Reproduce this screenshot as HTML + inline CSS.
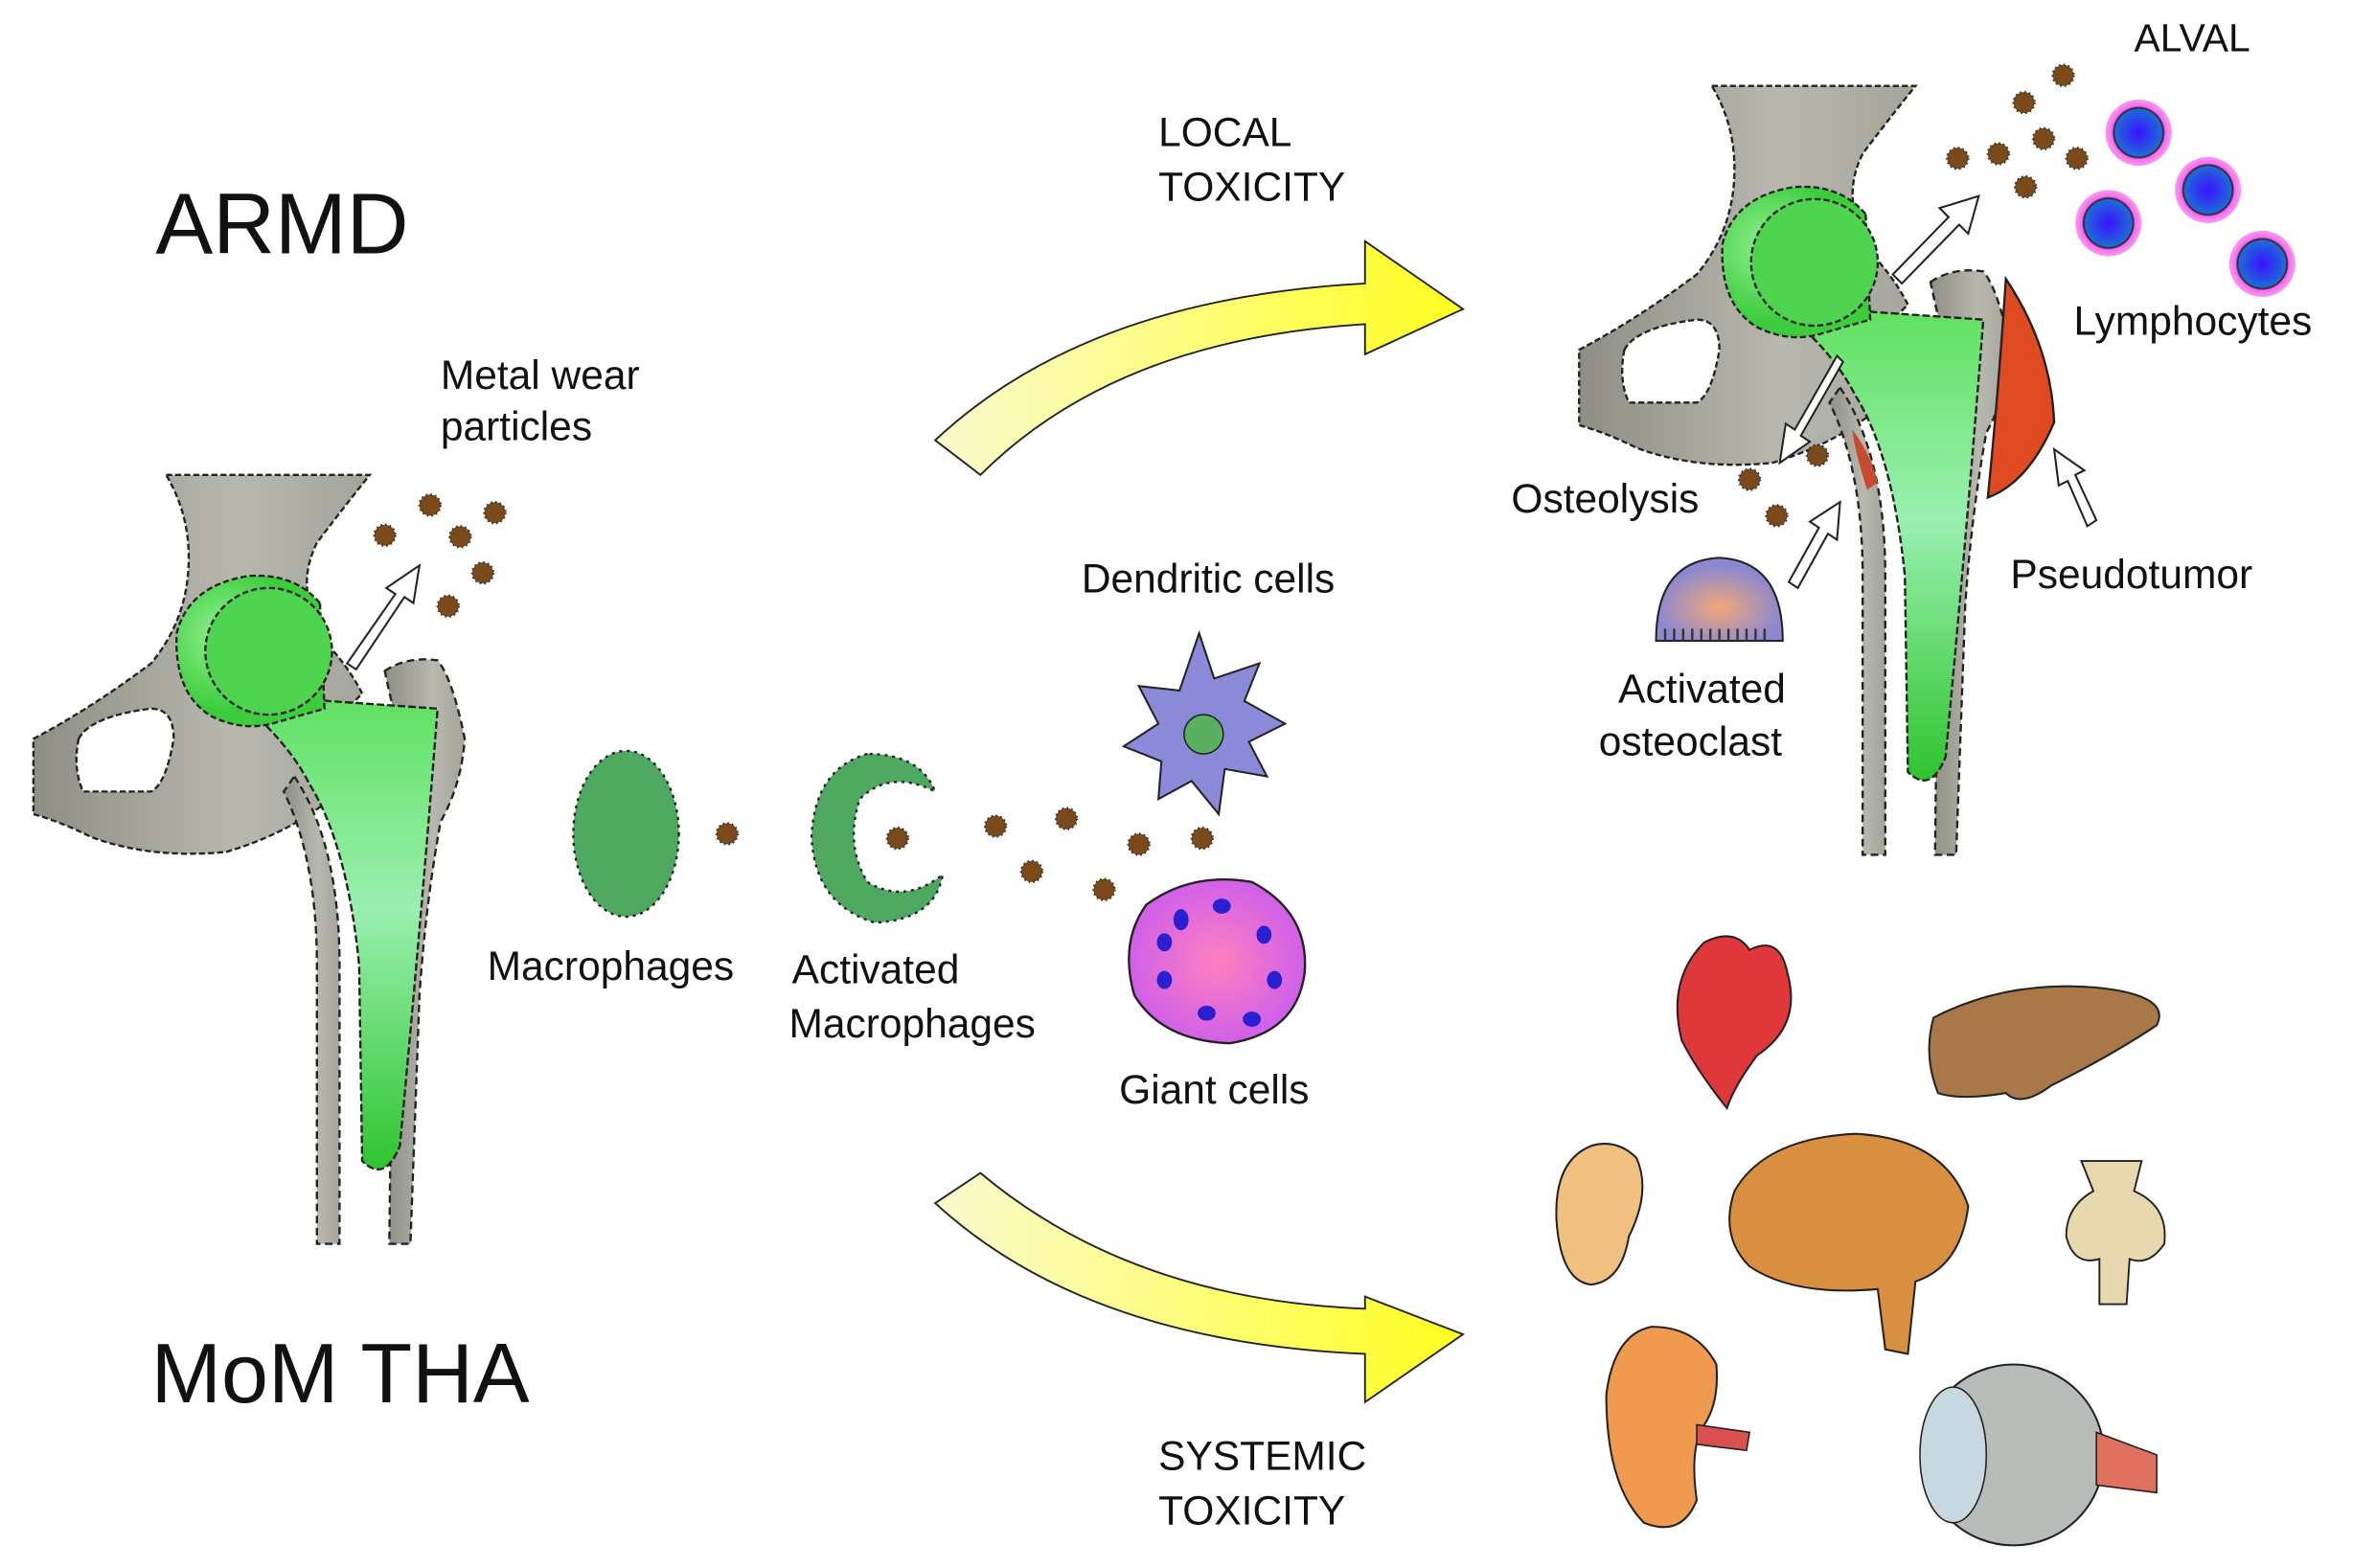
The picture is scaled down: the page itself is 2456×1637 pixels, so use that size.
<!DOCTYPE html>
<html><head><meta charset="utf-8"><style>
html,body{margin:0;padding:0;background:#fff;}
svg{display:block;}
text{font-family:"Liberation Sans",Arial,sans-serif;fill:#111;}
</style></head><body>
<svg width="2456" height="1637" viewBox="0 0 1560 1040" xmlns="http://www.w3.org/2000/svg">
<defs>
<linearGradient id="bone" x1="0" x2="1"><stop offset="0" stop-color="#8e8e84"/><stop offset="0.6" stop-color="#b8b8ae"/><stop offset="1" stop-color="#a4a49a"/></linearGradient>
<linearGradient id="stem" x1="0" y1="0" x2="0" y2="1"><stop offset="0" stop-color="#5fe05f"/><stop offset="0.45" stop-color="#9af0b0"/><stop offset="1" stop-color="#2fc42f"/></linearGradient>
<radialGradient id="cup" cx="0.3" cy="0.4"><stop offset="0" stop-color="#8ff08f"/><stop offset="1" stop-color="#3ccc3c"/></radialGradient>
<radialGradient id="lym"><stop offset="0" stop-color="#3a10ff"/><stop offset="0.7" stop-color="#1f6ad8"/><stop offset="0.75" stop-color="#222"/><stop offset="0.8" stop-color="#ff66ee"/><stop offset="1" stop-color="#f0a0f0"/></radialGradient>
<radialGradient id="osteo" cx="0.5" cy="0.6"><stop offset="0" stop-color="#f0a878"/><stop offset="1" stop-color="#8c88d0"/></radialGradient>
<radialGradient id="giant"><stop offset="0" stop-color="#ff80c0"/><stop offset="1" stop-color="#d060e8"/></radialGradient>
<linearGradient id="ya" x1="0" x2="1"><stop offset="0" stop-color="#fbfbd0"/><stop offset="1" stop-color="#ffff20"/></linearGradient>
<g id="hip">
 <path d="M110,315 L245,315 Q225,340 210,360 Q200,380 205,400 L210,420 Q230,440 240,460 L230,470 Q250,500 230,520 Q200,550 150,565 Q100,570 60,555 Q40,545 22,540 L22,490 Q60,470 100,440 Q125,410 125,370 Q125,340 110,315 Z" fill="url(#bone)" stroke="#222" stroke-width="1.5" stroke-dasharray="4 2"/>
 <path d="M52,490 Q60,475 100,470 Q115,470 115,490 Q110,520 100,525 L55,525 Q48,510 52,490 Z" fill="#fff" stroke="#222" stroke-width="1.5" stroke-dasharray="4 2"/>
 <path d="M195,515 Q225,560 225,640 L225,825 L210,825 L210,640 Q210,570 188,525 Z" fill="url(#bone)" stroke="#222" stroke-width="1.5" stroke-dasharray="5 3"/>
 <path d="M255,445 Q270,435 290,438 Q300,450 308,490 Q306,520 292,545 Q282,600 278,660 L272,825 L258,825 L260,650 Q265,560 275,520 Q262,480 255,445 Z" fill="url(#bone)" stroke="#222" stroke-width="1.5" stroke-dasharray="5 3"/>
 <path d="M180,460 L218,465 L290,470 Q280,600 265,760 Q255,785 240,770 L238,640 Q230,560 205,520 Q195,500 175,480 Z" fill="url(#stem)" stroke="#222" stroke-width="1.5" stroke-dasharray="5 2"/>
 <path d="M212,400 Q195,380 165,382 Q125,388 117,420 Q115,460 140,475 Q160,485 180,480 L215,470 Z" fill="url(#cup)" stroke="#222" stroke-width="1.5" stroke-dasharray="4 2"/>
 <circle cx="178" cy="432" r="42" fill="#4fd44f" stroke="#222" stroke-width="1.5" stroke-dasharray="4 2"/>
</g>
<g id="pt"><circle r="7" fill="#7a4a1a" stroke="#333" stroke-width="1.5" stroke-dasharray="1 2"/></g>
</defs>
<rect width="1560" height="1040" fill="#fff"/>
<text x="103" y="168" font-size="57">ARMD</text>
<text x="100" y="930" font-size="56">MoM THA</text>
<use href="#hip"/>
<use href="#hip" transform="translate(1025,-258)"/>
<path d="M1330,185 Q1360,230 1362,280 Q1345,320 1318,330 Q1325,260 1330,185 Z" fill="#e04a20" stroke="#222" stroke-width="1.5"/>
<path d="M1228,285 Q1240,300 1245,320 L1238,325 Q1230,300 1228,285 Z" fill="#c84a30"/>
<use href="#pt" x="285" y="335"/><use href="#pt" x="328" y="340"/><use href="#pt" x="255" y="355"/><use href="#pt" x="305" y="356"/><use href="#pt" x="320" y="380"/><use href="#pt" x="297" y="402"/>
<g fill="#fff" stroke="#222" stroke-width="1.3"><path d="M230,440 L262,394 L256,390 L278,375 L274,400 L268,396 L236,444 Z"/></g>
<text x="292" y="258" font-size="27">Metal wear</text>
<text x="292" y="292" font-size="27">particles</text>
<ellipse cx="415" cy="553" rx="35" ry="55" fill="#4ea860" stroke="#222" stroke-width="1.5" stroke-dasharray="2 3"/>
<use href="#pt" x="482" y="553"/>
<path d="M575,500 Q540,510 538,555 Q540,600 580,612 Q620,610 625,580 Q600,600 575,585 Q560,560 570,530 Q590,510 620,525 Q610,500 575,500 Z" fill="#4ea860" stroke="#222" stroke-width="1.5" stroke-dasharray="2 3"/>
<use href="#pt" x="595" y="556"/>
<use href="#pt" x="660" y="548"/><use href="#pt" x="707" y="543"/><use href="#pt" x="684" y="578"/><use href="#pt" x="732" y="590"/><use href="#pt" x="755" y="560"/><use href="#pt" x="797" y="556"/>
<text x="323" y="650" font-size="27">Macrophages</text>
<text x="525" y="652" font-size="27">Activated</text>
<text x="523" y="688" font-size="27">Macrophages</text>
<path d="M795,420 L805,450 L835,440 L825,465 L852,480 L828,492 L840,515 L812,510 L808,540 L790,518 L768,530 L770,505 L745,495 L768,480 L755,455 L782,458 Z" fill="#8a8ad8" stroke="#222" stroke-width="1.3"/>
<circle cx="798" cy="487" r="13" fill="#5ab060" stroke="#222"/>
<text x="717" y="393" font-size="27">Dendritic cells</text>
<path d="M760,600 Q790,578 830,585 Q868,605 865,645 Q860,685 815,692 Q770,690 752,660 Q742,625 760,600 Z" fill="url(#giant)" stroke="#222" stroke-width="1.5"/>
<g fill="#2a20d0"><ellipse cx="783" cy="610" rx="5" ry="7"/><ellipse cx="810" cy="601" rx="6" ry="5"/><ellipse cx="838" cy="620" rx="5" ry="6"/><ellipse cx="845" cy="650" rx="5" ry="6"/><ellipse cx="830" cy="676" rx="6" ry="5"/><ellipse cx="800" cy="672" rx="6" ry="5"/><ellipse cx="772" cy="650" rx="5" ry="6"/><ellipse cx="772" cy="625" rx="5" ry="6"/></g>
<text x="742" y="732" font-size="27">Giant cells</text>
<path d="M620,292 Q720,198 905,188 L905,160 L970,205 L905,235 L905,215 Q740,225 650,315 Z" fill="url(#ya)" stroke="#222" stroke-width="1.2"/>
<path d="M620,798 L650,778 Q750,862 905,868 L905,860 L970,885 L905,930 L905,898 Q720,890 620,798 Z" fill="url(#ya)" stroke="#222" stroke-width="1.2"/>
<text x="768" y="97" font-size="27">LOCAL</text>
<text x="768" y="133" font-size="27">TOXICITY</text>
<text x="768" y="975" font-size="27">SYSTEMIC</text>
<text x="768" y="1011" font-size="27">TOXICITY</text>
<text x="1415" y="34" font-size="26">ALVAL</text>
<use href="#pt" x="1368" y="50"/><use href="#pt" x="1342" y="68"/><use href="#pt" x="1355" y="92"/><use href="#pt" x="1298" y="105"/><use href="#pt" x="1325" y="102"/><use href="#pt" x="1377" y="105"/><use href="#pt" x="1343" y="124"/>
<circle cx="1418" cy="88" r="22" fill="url(#lym)"/><circle cx="1464" cy="126" r="22" fill="url(#lym)"/><circle cx="1398" cy="148" r="22" fill="url(#lym)"/><circle cx="1500" cy="175" r="22" fill="url(#lym)"/>
<text x="1375" y="222" font-size="27">Lymphocytes</text>
<g fill="#fff" stroke="#222" stroke-width="1.3">
<path d="M1255,182 L1292,144 L1286,138 L1312,130 L1305,155 L1299,149 L1261,188 Z"/>
<path d="M1218,236 L1190,285 L1184,281 L1180,307 L1200,293 L1194,289 L1222,240 Z"/>
<path d="M1186,386 L1206,350 L1200,346 L1220,333 L1218,358 L1212,354 L1192,390 Z"/>
<path d="M1390,345 L1376,315 L1382,312 L1362,298 L1365,322 L1371,319 L1384,349 Z"/>
</g>
<use href="#pt" x="1205" y="302"/><use href="#pt" x="1160" y="318"/><use href="#pt" x="1178" y="342"/>
<text x="1002" y="340" font-size="27">Osteolysis</text>
<text x="1333" y="390" font-size="27">Pseudotumor</text>
<path d="M1098,425 Q1098,372 1140,370 Q1182,372 1182,425 Z" fill="url(#osteo)" stroke="#222" stroke-width="1.3"/>
<path d="M1104,425 v-8 M1110,425 v-8 M1116,425 v-8 M1122,425 v-8 M1128,425 v-8 M1134,425 v-8 M1140,425 v-8 M1146,425 v-8 M1152,425 v-8 M1158,425 v-8 M1164,425 v-8 M1170,425 v-8" stroke="#333" stroke-width="1.5"/>
<text x="1073" y="466" font-size="27">Activated</text>
<text x="1060" y="501" font-size="27">osteoclast</text>
<path d="M1130,625 Q1150,615 1160,630 Q1180,620 1185,645 Q1195,680 1165,700 Q1150,720 1145,735 Q1125,710 1115,690 Q1105,650 1130,625 Z" fill="#e0383a" stroke="#222" stroke-width="1.3"/>
<path d="M1282,675 Q1330,650 1390,655 Q1440,660 1430,680 Q1400,700 1360,720 Q1340,735 1330,725 Q1300,730 1285,725 Q1275,700 1282,675 Z" fill="#a87848" stroke="#222" stroke-width="1.3"/>
<path d="M1055,760 Q1030,770 1032,810 Q1035,850 1055,852 Q1075,850 1080,820 Q1095,790 1085,768 Q1072,755 1055,760 Z" fill="#f0c080" stroke="#222" stroke-width="1.3"/>
<path d="M1150,790 Q1170,755 1230,752 Q1290,755 1305,800 Q1300,840 1270,850 L1265,898 L1250,895 L1245,855 Q1190,860 1160,840 Q1140,820 1150,790 Z" fill="#d89040" stroke="#222" stroke-width="1.3"/>
<path d="M1380,770 L1420,770 L1415,790 Q1438,800 1435,825 Q1425,840 1412,835 L1410,865 L1392,865 L1392,835 Q1375,840 1370,820 Q1370,800 1388,790 Z" fill="#e8d8b0" stroke="#222" stroke-width="1.2"/>
<path d="M1095,880 Q1070,885 1065,925 Q1065,985 1090,1010 Q1115,1020 1125,995 Q1120,960 1130,945 Q1140,930 1138,905 Q1125,880 1095,880 Z" fill="#f09a50" stroke="#222" stroke-width="1.3"/>
<path d="M1125,945 L1160,950 L1158,962 L1125,958 Z" fill="#d85050" stroke="#222"/>
<circle cx="1335" cy="965" r="60" fill="#b8bcb8" stroke="#222" stroke-width="1.3"/>
<path d="M1390,950 L1430,965 L1430,990 L1390,985 Z" fill="#e07060" stroke="#222"/>
<ellipse cx="1295" cy="965" rx="22" ry="45" fill="#c8d8e0" stroke="#222"/>
</svg>
</body></html>
